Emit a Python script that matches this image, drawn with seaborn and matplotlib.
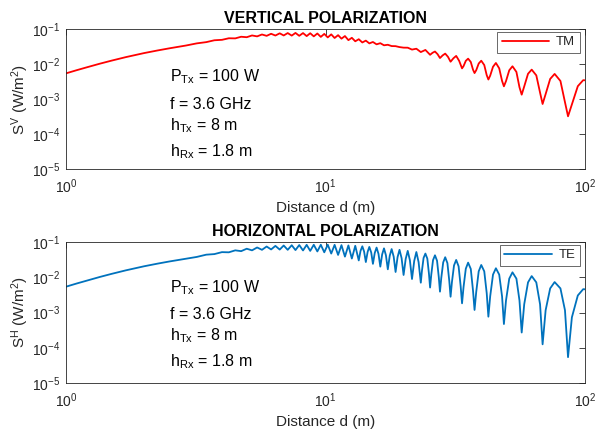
import matplotlib
matplotlib.use("Agg")
import matplotlib.pyplot as plt
from matplotlib.ticker import FixedLocator, NullLocator
import pandas as pd
import seaborn as sns

# ---------------------------------------------------------------------------
# Power density of the two-ray link, sampled along the ground distance d (m)
# ---------------------------------------------------------------------------
tm_distance = [
    1.00, 1.10, 1.20, 1.35, 1.50, 1.70, 2.00, 2.25, 2.50, 2.90,
    3.19, 3.47, 3.73, 3.99, 4.24, 4.49, 4.73, 4.97, 5.21, 5.45, 5.69, 5.93,
    6.17, 6.41, 6.66, 6.90, 7.15, 7.41, 7.66, 7.92, 8.19, 8.46, 8.73, 9.01,
    9.30, 9.59, 9.89, 10.20, 10.52, 10.84, 11.18, 11.52, 11.88, 12.25, 12.63,
    13.02, 13.43, 13.86, 14.30, 14.75, 15.23, 15.73, 16.26, 16.80, 17.38,
    17.98, 18.62, 19.28, 19.99, 20.74, 21.54, 22.39, 23.29, 24.26, 25.29,
    25.85, 26.41, 27.02, 27.61, 28.27, 28.92, 29.64, 30.33, 31.12, 31.88,
    32.73, 33.58, 34.03, 34.72, 35.44, 36.29, 37.02, 37.52, 38.08, 38.93,
    39.82, 40.90, 41.80, 42.42, 43.10, 44.20, 45.35, 46.70, 47.90, 48.69,
    49.60, 51.05, 52.53, 54.40, 55.90, 57.01, 58.30, 60.30, 62.30, 64.90,
    67.10, 68.63, 70.50, 73.40, 76.36, 80.40, 83.70, 86.00, 89.00, 93.80,
    98.40, 100.00,
]
tm_density = [
    5.4e-3, 6.66e-3, 8.0e-3, 1.02e-2, 1.25e-2, 1.57e-2, 2.05e-2, 2.43e-2,
    2.80e-2, 3.37e-2,
    3.88e-2, 4.21e-2, 4.76e-2, 4.90e-2, 5.43e-2, 5.39e-2, 6.00e-2, 5.82e-2,
    6.53e-2, 6.15e-2, 6.96e-2, 6.37e-2, 7.29e-2, 6.50e-2, 7.52e-2, 6.53e-2,
    7.64e-2, 6.47e-2, 7.71e-2, 6.38e-2, 7.64e-2, 6.26e-2, 7.56e-2, 6.15e-2,
    7.43e-2, 5.94e-2, 7.24e-2, 5.74e-2, 7.02e-2, 5.53e-2, 6.66e-2, 5.29e-2,
    6.28e-2, 4.80e-2, 5.60e-2, 4.45e-2, 5.10e-2, 4.12e-2, 4.65e-2, 3.88e-2,
    4.25e-2, 3.64e-2, 3.93e-2, 3.42e-2, 3.54e-2, 3.25e-2, 3.23e-2, 3.04e-2,
    2.93e-2, 2.92e-2, 2.58e-2, 2.73e-2, 2.19e-2, 2.52e-2, 1.83e-2,
    2.09e-2, 2.27e-2, 1.91e-2, 1.48e-2, 1.76e-2, 1.98e-2, 1.60e-2, 1.16e-2,
    1.46e-2, 1.70e-2, 1.23e-2, 7.5e-3, 8.69e-3, 1.23e-2, 1.42e-2, 1.14e-2,
    6.85e-3, 5.5e-3, 6.63e-3, 1.03e-2, 1.24e-2, 9.32e-3, 4.79e-3, 3.6e-3,
    4.63e-3, 8.32e-3, 1.07e-2, 7.51e-3, 3.28e-3, 2.3e-3, 3.24e-3, 6.6e-3,
    8.6e-3, 5.93e-3, 2.16e-3, 1.33e-3, 2.28e-3, 5.24e-3, 6.9e-3, 4.73e-3,
    1.52e-3, 7.2e-4, 1.38e-3, 3.74e-3, 5.2e-3, 3.27e-3, 8.1e-4, 3.2e-4,
    7.0e-4, 2.32e-3, 3.45e-3, 3.42e-3,
]

te_distance = [
    1.00, 1.10, 1.20, 1.35, 1.50, 1.70, 2.00, 2.25, 2.50, 2.90,
    3.19, 3.47, 3.73, 3.99, 4.24, 4.49, 4.73, 4.97, 5.21, 5.45, 5.69, 5.93,
    6.17, 6.41, 6.66, 6.90, 7.15, 7.41, 7.66, 7.92, 8.19, 8.46, 8.73, 9.01,
    9.30, 9.59, 9.89, 10.20, 10.52, 10.84, 11.18, 11.52, 11.88, 12.25, 12.63,
    13.02, 13.43, 13.64, 13.86, 14.08, 14.30, 14.53, 14.75, 15.00, 15.23,
    15.48, 15.73, 16.00, 16.26, 16.53, 16.80, 17.09, 17.38, 17.68, 17.98,
    18.31, 18.62, 18.95, 19.28, 19.64, 19.99, 20.37, 20.74, 21.14, 21.54,
    21.97, 22.39, 22.84, 23.29, 23.52, 23.87, 24.26, 24.68, 25.04, 25.29,
    25.56, 25.96, 26.41, 26.90, 27.32, 27.61, 27.93, 28.41, 28.92, 29.49,
    29.99, 30.33, 30.70, 31.27, 31.88, 32.57, 33.17, 33.58, 34.03, 34.72,
    35.44, 36.29, 37.02, 37.52, 38.08, 38.93, 39.82, 40.90, 41.80, 42.42,
    43.10, 44.20, 45.35, 46.70, 47.90, 48.69, 49.60, 51.05, 52.53, 54.40,
    55.90, 57.01, 58.30, 60.30, 62.30, 64.90, 67.10, 68.63, 70.50, 73.40,
    76.36, 80.40, 83.70, 86.00, 89.00, 93.80, 98.40, 100.00,
]
te_density = [
    5.4e-3, 6.66e-3, 8.0e-3, 1.02e-2, 1.25e-2, 1.57e-2, 2.05e-2, 2.43e-2,
    2.80e-2, 3.37e-2,
    3.77e-2, 4.37e-2, 4.54e-2, 5.16e-2, 5.10e-2, 5.80e-2, 5.50e-2, 6.45e-2,
    5.80e-2, 7.00e-2, 6.00e-2, 7.45e-2, 6.15e-2, 7.75e-2, 6.10e-2, 7.95e-2,
    6.00e-2, 8.10e-2, 5.90e-2, 8.20e-2, 5.75e-2, 8.30e-2, 5.60e-2, 8.35e-2,
    5.40e-2, 8.35e-2, 5.10e-2, 8.40e-2, 4.70e-2, 8.30e-2, 4.30e-2, 8.15e-2,
    3.85e-2, 8.00e-2, 3.40e-2, 7.80e-2, 3.00e-2, 5.57e-2, 7.55e-2, 5.38e-2,
    2.70e-2, 5.24e-2, 7.25e-2, 5.04e-2, 2.40e-2, 4.91e-2, 6.95e-2, 4.61e-2,
    2.00e-2, 4.46e-2, 6.60e-2, 4.21e-2, 1.68e-2, 4.08e-2, 6.30e-2, 3.84e-2,
    1.41e-2, 3.72e-2, 6.00e-2, 3.48e-2, 1.16e-2, 3.33e-2, 5.60e-2, 3.04e-2,
    8.9e-3, 2.91e-2, 5.20e-2, 2.68e-2, 7.0e-3, 1.50e-2, 3.53e-2, 4.70e-2,
    3.36e-2, 1.24e-2, 5.1e-3, 1.19e-2, 3.06e-2, 4.20e-2, 2.94e-2, 1.01e-2,
    3.9e-3, 9.6e-3, 2.64e-2, 3.70e-2, 2.52e-2, 7.8e-3, 2.8e-3, 7.3e-3,
    2.16e-2, 3.10e-2, 2.04e-2, 5.6e-3, 1.82e-3, 5.27e-3, 1.75e-2, 2.60e-2,
    1.72e-2, 4.12e-3, 1.18e-3, 3.81e-3, 1.47e-2, 2.23e-2, 1.47e-2, 3.53e-3,
    7.6e-4, 2.85e-3, 1.19e-2, 1.80e-2, 1.19e-2, 2.85e-3, 4.7e-4, 2.19e-3,
    9.13e-3, 1.38e-2, 9.13e-3, 2.19e-3, 2.7e-4, 1.71e-3, 7.15e-3, 1.08e-2,
    7.15e-3, 1.71e-3, 1.25e-4, 1.16e-3, 4.83e-3, 7.3e-3, 4.83e-3, 1.16e-3,
    5.4e-5, 7.3e-4, 3.04e-3, 4.6e-3, 4.55e-3,
]

# Axis ticks and text
x_ticks = [1, 10, 100]
x_tick_labels = ["$10^{0}$", "$10^{1}$", "$10^{2}$"]
y_ticks = [1e-5, 1e-4, 1e-3, 1e-2, 1e-1]
y_tick_labels = ["$10^{-5}$", "$10^{-4}$", "$10^{-3}$", "$10^{-2}$", "$10^{-1}$"]
link_lines = ["$P_{Tx}$ = 100 W", "f = 3.6 GHz", "$h_{Tx}$ = 8 m", "$h_{Rx}$ = 1.8 m"]

sns.set_theme(style="white")
plt.rcParams["font.family"] = ["Liberation Sans", "DejaVu Sans"]
plt.rcParams["mathtext.default"] = "regular"

INK = "#262626"

fig = plt.figure(figsize=(5.98, 4.30), dpi=100)
ax_v = fig.add_axes([0.1104, 0.607, 0.8679, 0.3256])
ax_h = fig.add_axes([0.1104, 0.1093, 0.8679, 0.3279])

panels = [
    (ax_v, tm_distance, tm_density, "#FF0000", "TM", "VERTICAL POLARIZATION",
     "S$^{V}$ (W/m$^{2}$)", [0.624, 0.429, 0.274, 0.088]),
    (ax_h, te_distance, te_density, "#0072BD", "TE", "HORIZONTAL POLARIZATION",
     "S$^{H}$ (W/m$^{2}$)", [0.643, 0.452, 0.300, 0.116]),
]

for ax, dist, dens, color, name, title, ylabel, text_y in panels:
    frame = pd.DataFrame({"distance": dist, "density": dens})
    sns.lineplot(data=frame, x="distance", y="density", ax=ax, color=color,
                 linewidth=1.3, label=name, sort=False, estimator=None)
    ax.set_xscale("log")
    ax.set_yscale("log")
    ax.set_xlim(1, 100)
    ax.set_ylim(1e-5, 1e-1)
    ax.xaxis.set_major_locator(FixedLocator(x_ticks))
    ax.yaxis.set_major_locator(FixedLocator(y_ticks))
    ax.xaxis.set_minor_locator(NullLocator())
    ax.yaxis.set_minor_locator(NullLocator())
    ax.set_xticklabels(x_tick_labels)
    ax.set_yticklabels(y_tick_labels)
    ax.tick_params(axis="both", which="major", direction="in", length=4,
                   width=0.6, top=True, right=True, colors=INK, labelsize=10)
    ax.tick_params(axis="x", pad=6)
    ax.tick_params(axis="y", pad=4)
    for spine in ax.spines.values():
        spine.set_visible(True)
        spine.set_color(INK)
        spine.set_linewidth(0.6)
    ax.set_title(title, fontsize=11.5, fontweight="bold", color="black", pad=4)
    ax.set_xlabel("Distance d (m)", fontsize=11, color=INK, labelpad=4)
    ax.set_ylabel(ylabel, fontsize=11, color=INK, labelpad=1)
    for line, yy in zip(link_lines, text_y):
        ax.text(0.2, yy, line, transform=ax.transAxes, fontsize=11.5,
                color="black", va="baseline", ha="left")
    leg = ax.legend(loc="upper right", bbox_to_anchor=(0.99, 0.982),
                    borderaxespad=0, fontsize=9.5, frameon=True, fancybox=False,
                    edgecolor=INK, handlelength=3.6, handletextpad=0.5,
                    borderpad=0.35)
    leg.get_frame().set_linewidth(0.6)

fig.savefig("out.png", dpi=100)
